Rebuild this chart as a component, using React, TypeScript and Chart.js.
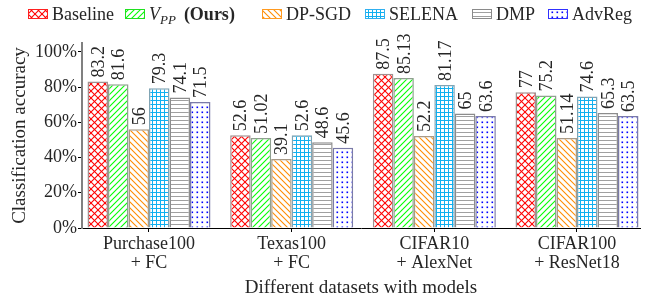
import { useEffect, useRef } from 'react';
import { Chart, registerables } from 'chart.js';

Chart.register(...registerables);

// ---- data ----
const categories: string[][] = [
  ['Purchase100', '+ FC'],
  ['Texas100', '+ FC'],
  ['CIFAR10', '+ AlexNet'],
  ['CIFAR100', '+ ResNet18'],
];
const seriesNames = ['Baseline', 'VPP (Ours)', 'DP-SGD', 'SELENA', 'DMP', 'AdvReg'];
const baseline = [83.2, 52.6, 87.5, 77];
const vpp = [81.6, 51.02, 85.13, 75.2];
const dpsgd = [56, 39.1, 52.2, 51.14];
const selena = [79.3, 52.6, 81.17, 74.6];
const dmp = [74.1, 48.6, 65, 65.3];
const advreg = [71.5, 45.6, 63.6, 63.5];
const yTickValues = [0, 20, 40, 60, 80, 100];
const xTitle = 'Different datasets with models';
const yTitle = 'Classification accuracy';

const FONT = '"Liberation Serif", "Times New Roman", serif';
const TEXT = '#262626';
const legendBoxX = [28, 125, 262, 365, 472, 548];

type PatternKind = 'crosshatch' | 'ne' | 'nw' | 'grid' | 'hlines' | 'dots';
const styles: { kind: PatternKind; color: string; border: string; legendBorder: string }[] = [
  { kind: 'crosshatch', color: '#ff0000', border: '#a09090', legendBorder: '#ff2020' },
  { kind: 'ne', color: '#00ff00', border: '#8fa08f', legendBorder: '#20e020' },
  { kind: 'nw', color: '#ff8c00', border: '#a89a88', legendBorder: '#ff9a20' },
  { kind: 'grid', color: '#10b0f0', border: '#80a4b4', legendBorder: '#30b0f0' },
  { kind: 'hlines', color: '#a0a0a0', border: '#8c8c8c', legendBorder: '#8a8a8a' },
  { kind: 'dots', color: '#0000ff', border: '#7a7aa8', legendBorder: '#3030ff' },
];

function makePattern(ctx: CanvasRenderingContext2D, kind: PatternKind, color: string): CanvasPattern | string {
  const size = kind === 'crosshatch' ? 7 : kind === 'ne' || kind === 'nw' ? 6 : kind === 'dots' ? 5 : 4;
  const c = document.createElement('canvas');
  c.width = size;
  c.height = size;
  const g = c.getContext('2d')!;
  g.fillStyle = '#ffffff';
  g.fillRect(0, 0, size, size);
  g.strokeStyle = color;
  g.fillStyle = color;
  g.lineWidth = kind === 'ne' || kind === 'nw' || kind === 'crosshatch' ? 1.1 : 1;
  const s = size;
  const line = (x1: number, y1: number, x2: number, y2: number) => {
    g.beginPath();
    g.moveTo(x1, y1);
    g.lineTo(x2, y2);
    g.stroke();
  };
  if (kind === 'crosshatch') {
    line(-1, -1, s + 1, s + 1);
    line(-1, s + 1, s + 1, -1);
  } else if (kind === 'ne') {
    line(-1, s + 1, s + 1, -1);
    line(-1, 1, 1, -1);
    line(s - 1, s + 1, s + 1, s - 1);
  } else if (kind === 'nw') {
    line(-1, -1, s + 1, s + 1);
    line(-1, s - 1, 1, s + 1);
    line(s - 1, -1, s + 1, 1);
  } else if (kind === 'grid') {
    line(0, 0.5, s, 0.5);
    line(0.5, 0, 0.5, s);
  } else if (kind === 'hlines') {
    line(0, 0.5, s, 0.5);
  } else if (kind === 'dots') {
    g.fillRect(1.5, 1.5, 1.6, 1.6);
  }
  return ctx.createPattern(c, 'repeat') || color;
}

export default function App() {
  const canvasRef = useRef<HTMLCanvasElement | null>(null);

  useEffect(() => {
    const canvas = canvasRef.current;
    if (!canvas) return;
    const ctx = canvas.getContext('2d')!;
    const series = [baseline, vpp, dpsgd, selena, dmp, advreg];
    const patterns = styles.map((st) => makePattern(ctx, st.kind, st.color));

    const valueLabelPlugin = {
      id: 'valueLabels',
      afterDatasetsDraw(chart: any) {
        const c = chart.ctx as CanvasRenderingContext2D;
        c.save();
        c.font = `18px ${FONT}`;
        c.fillStyle = TEXT;
        c.textAlign = 'left';
        c.textBaseline = 'alphabetic';
        chart.data.datasets.forEach((_ds: any, di: number) => {
          const meta = chart.getDatasetMeta(di);
          meta.data.forEach((bar: any, i: number) => {
            c.save();
            c.translate(bar.x, bar.y - 4);
            c.rotate(-Math.PI / 2);
            c.fillText(String(series[di][i]), 0, 6);
            c.restore();
          });
        });
        c.restore();
      },
    };

    const legendPlugin = {
      id: 'customLegend',
      afterDraw(chart: any) {
        const c = chart.ctx as CanvasRenderingContext2D;
        c.save();
        const boxY = 9;
        const textY = 20;
        c.textBaseline = 'alphabetic';
        c.textAlign = 'left';
        seriesNames.forEach((name, i) => {
          const x = legendBoxX[i];
          c.fillStyle = patterns[i] as any;
          c.fillRect(x, boxY, 20, 10);
          c.strokeStyle = styles[i].legendBorder;
          c.lineWidth = 1;
          c.strokeRect(x + 0.5, boxY + 0.5, 19, 9);
          let tx = x + 24;
          c.fillStyle = TEXT;
          if (i === 1) {
            c.font = `italic 18px ${FONT}`;
            c.fillText('V', tx, textY);
            tx += c.measureText('V').width;
            c.font = `italic 13px ${FONT}`;
            c.fillText('PP', tx, textY + 4);
            tx += c.measureText('PP').width;
            c.font = `bold 18px ${FONT}`;
            c.fillText('(Ours)', tx + 8, textY);
          } else {
            c.font = `18px ${FONT}`;
            c.fillText(name, tx, textY);
          }
        });
        c.restore();
      },
    };

    const chart = new Chart(canvas, {
      type: 'bar',
      data: {
        datasets: series.map((vals, di) => ({
          label: seriesNames[di],
          data: vals.map((v, i) => ({ x: i, y: v })),
          backgroundColor: patterns[di] as any,
          borderColor: styles[di].border,
          borderWidth: 1.5,
          categoryPercentage: 0.862,
          barPercentage: 1.0,
        })),
      },
      options: {
        animation: false,
        responsive: false,
        maintainAspectRatio: false,
        devicePixelRatio: 1,
        layout: { padding: { top: 43, right: 9, bottom: 0, left: 0 } },
        plugins: {
          legend: { display: false },
          tooltip: { enabled: false },
        },
        scales: {
          x: {
            type: 'linear',
            min: -0.4696,
            max: 3.4416,
            offset: false,
            afterFit: (scale: any) => {
              scale.height = 71;
            },
            afterBuildTicks: (scale: any) => {
              scale.ticks = categories.map((_c, i) => ({ value: i }));
            },
            grid: {
              display: true,
              drawOnChartArea: false,
              offset: false,
              drawTicks: true,
              tickLength: 4,
              tickColor: '#000',
            },
            border: { display: true, color: '#000', width: 1 },
            ticks: {
              color: TEXT,
              font: { family: FONT, size: 18, lineHeight: 1.1 },
              padding: 2,
              maxRotation: 0,
              autoSkip: false,
              callback: (value: any) => categories[Math.round(Number(value))] ?? '',
            },
            title: {
              display: true,
              text: xTitle,
              color: TEXT,
              font: { family: FONT, size: 19, lineHeight: 1.2 },
              padding: { top: 0, bottom: 0 },
            },
          },
          y: {
            type: 'linear',
            min: 0,
            max: 105,
            afterFit: (scale: any) => {
              scale.width = 82;
            },
            afterBuildTicks: (scale: any) => {
              scale.ticks = yTickValues.map((v) => ({ value: v }));
            },
            grid: {
              display: true,
              drawOnChartArea: false,
              drawTicks: true,
              tickLength: 4,
              tickColor: '#000',
            },
            border: { display: true, color: '#808080', width: 2 },
            ticks: {
              color: TEXT,
              font: { family: FONT, size: 18 },
              padding: 1,
              callback: (value: any) => `${value}%`,
            },
            title: {
              display: true,
              text: yTitle,
              color: TEXT,
              font: { family: FONT, size: 19, lineHeight: 1.2 },
              padding: { top: 9, bottom: 0 },
            },
          },
        },
      },
      plugins: [valueLabelPlugin, legendPlugin],
    } as any);

    return () => chart.destroy();
  }, []);

  return (
    <div style={{ position: 'fixed', left: 0, top: 0, width: 649, height: 299, background: '#fff' }}>
      <canvas ref={canvasRef} width={649} height={299} style={{ width: 649, height: 299, display: 'block' }} />
    </div>
  );
}
